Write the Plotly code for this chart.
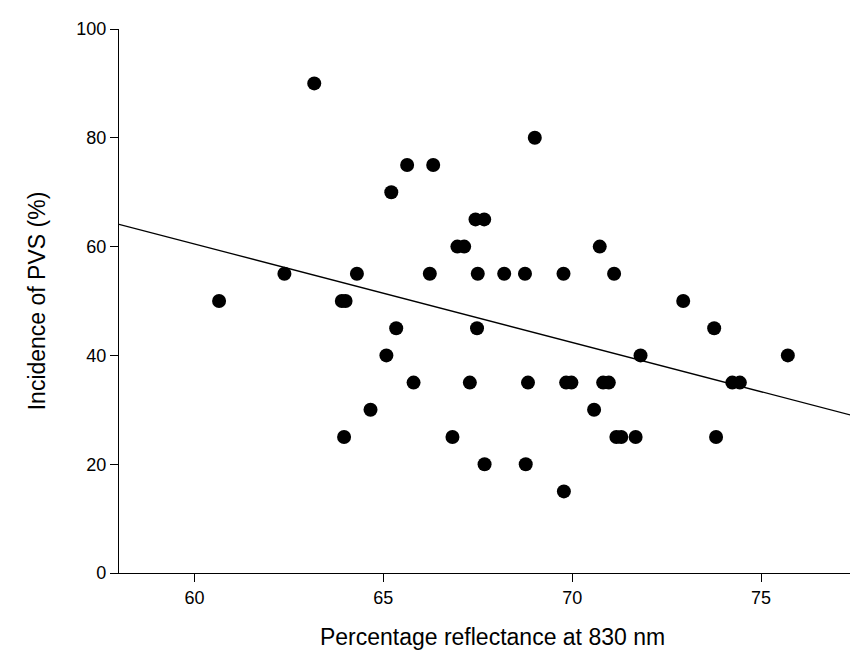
import plotly.graph_objects as go

# Scatter data: percentage reflectance at 830 nm vs incidence of PVS (%)
reflectance = [63.17, 65.63, 66.32, 65.21, 67.44, 67.67, 69.01, 66.96, 67.14, 62.38,
               64.30, 66.23, 67.50, 60.65, 63.90, 64.00, 65.34, 67.48, 65.08, 65.80,
               67.29, 70.73, 68.20, 68.75, 69.77, 71.11, 72.94, 73.76, 71.81, 75.71,
               68.83, 69.84, 69.98, 70.82, 70.97, 74.24, 74.44, 64.66, 63.96, 66.83,
               67.68, 70.58, 71.17, 71.30, 71.68, 73.81, 68.77, 69.78]
incidence = [90, 75, 75, 70, 65, 65, 80, 60, 60, 55,
             55, 55, 55, 50, 50, 50, 45, 45, 40, 35,
             35, 60, 55, 55, 55, 55, 50, 45, 40, 40,
             35, 35, 35, 35, 35, 35, 35, 30, 25, 25,
             20, 30, 25, 25, 25, 25, 20, 15]

# Regression line endpoints
fit_x = [58.0, 77.78]
fit_y = [64.1, 28.3]

x_ticks = [60, 65, 70, 75]
y_ticks = [0, 20, 40, 60, 80, 100]

fig = go.Figure()
fig.add_trace(go.Scatter(x=fit_x, y=fit_y, mode="lines",
                         line=dict(color="black", width=1.3),
                         showlegend=False, hoverinfo="skip"))
fig.add_trace(go.Scatter(x=reflectance, y=incidence, mode="markers",
                         marker=dict(color="black", size=14, line=dict(width=0)),
                         showlegend=False))

font_family = "Liberation Sans, Arial, sans-serif"
fig.update_layout(
    width=858, height=653,
    margin=dict(l=111, r=0, t=21, b=88),
    paper_bgcolor="white", plot_bgcolor="white",
    font=dict(family=font_family, color="black", size=18),
    xaxis=dict(range=[58, 77.78], tickvals=x_ticks, ticks="outside", ticklen=8,
               tickwidth=1.2, tickcolor="black", showline=True, linecolor="black",
               linewidth=1.2, showgrid=False, zeroline=False, automargin=False,
               tickfont=dict(size=18),
               title=dict(text="Percentage reflectance at 830 nm",
                          font=dict(size=23), standoff=22)),
    yaxis=dict(range=[0, 100], tickvals=y_ticks, ticks="outside", ticklen=8,
               tickwidth=1.2, tickcolor="black", showline=True, linecolor="black",
               linewidth=1.2, showgrid=False, zeroline=False, automargin=False,
               tickfont=dict(size=18),
               title=dict(text="Incidence of PVS (%)", font=dict(size=23),
                          standoff=24)),
)

fig.write_html("out.html")
